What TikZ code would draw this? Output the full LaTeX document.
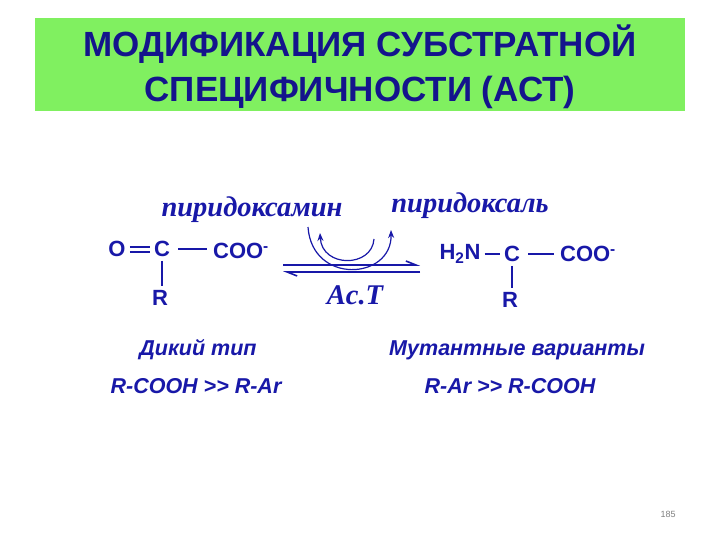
\documentclass[tikz,border=0pt]{standalone}
\usepackage{fontspec}
\setmainfont{Liberation Serif}
\setsansfont{Liberation Sans}
\usetikzlibrary{arrows.meta}
\definecolor{tb}{HTML}{14148C}
\definecolor{bl}{HTML}{1818A8}
\definecolor{gr}{HTML}{80F060}
\tikzset{
 chem/.style={font=\sffamily\bfseries\fontsize{22}{24}\selectfont, text=bl, inner sep=4pt},
 lab/.style={font=\rmfamily\bfseries\itshape\fontsize{28.5}{30}\selectfont, text=bl, inner sep=1pt},
 captxt/.style={font=\sffamily\bfseries\itshape\fontsize{21.5}{23}\selectfont, text=bl, inner sep=1pt},
 bond/.style={draw=bl, line width=2pt},
}
\begin{document}
\begin{tikzpicture}[x=1pt,y=-1pt]
\useasboundingbox (0,0) rectangle (720,540);
\fill[white] (0,0) rectangle (720,540);
\fill[gr] (35,18) rectangle (685,111);
\node[font=\sffamily\bfseries\fontsize{35}{45}\selectfont, text=tb, align=center] (title) at (360,67) {МОДИФИКАЦИЯ СУБСТРАТНОЙ\\СПЕЦИФИЧНОСТИ (АСТ)};
% left molecule
\node[chem] (o1) at (117,249) {O};
\node[chem] (c1) at (162,249) {C};
\node[chem] (coo1) at (241,251) {COO\textsuperscript{-}};
\node[chem] (r1) at (160,298) {R};
\draw[bond] ([yshift=-2.5pt]o1.east) -- ([yshift=-2.5pt]c1.west);
\draw[bond] ([yshift=2.5pt]o1.east) -- ([yshift=2.5pt]c1.west);
\draw[bond] ([xshift=4pt]c1.east) -- ([xshift=-2pt]coo1.west |- c1.east);
\draw[bond] (c1.south) -- (c1.south |- r1.north);
% right molecule
\node[chem] (n2) at (460,254) {H\textsubscript{2}N};
\node[chem] (c2) at (512,254) {C};
\node[chem] (coo2) at (588,254) {COO\textsuperscript{-}};
\node[chem] (r2) at (510,300) {R};
\draw[bond] (n2.east) -- (c2.west);
\draw[bond] ([xshift=4pt]c2.east) -- ([xshift=-2pt]coo2.west);
\draw[bond] (c2.south) -- (c2.south |- r2.north);
% labels
\node[lab] (pm) at (252,210) {пиридоксамин};
\node[lab] (pl) at (470,206) {пиридоксаль};
\node[lab] (act) at (355,295) {Ac.T};
% equilibrium arrows
\coordinate (a1) at (283,265); \coordinate (a2) at (420,265);
\coordinate (b1) at (283,272); \coordinate (b2) at (420,272);
\draw[draw=bl, line width=1.6pt, -{Straight Barb[left,length=10pt,width=8pt]}] (a1) -- (a2);
\draw[draw=bl, line width=1.6pt, -{Straight Barb[left,length=10pt,width=8pt]}] (b2) -- (b1);
% curved arrows
\coordinate (p1) at (308,227); \coordinate (p2) at (391,230);
\coordinate (q1) at (374,239); \coordinate (q2) at (320,233);
\draw[draw=bl, line width=1.2pt, -{Stealth[length=8pt,width=6pt]}] (p1) .. controls (312,285) and (392,280) .. (p2);
\draw[draw=bl, line width=1.2pt, -{Stealth[length=8pt,width=6pt]}] (q1) .. controls (372,268) and (322,268) .. (q2);
% captions
\node[captxt] (wt) at (198,350) {Дикий тип};
\node[captxt] (wtr) at (196,386) {R-COOH {>}{>} R-Ar};
\node[captxt] (mt) at (517,350) {Мутантные варианты};
\node[captxt] (mtr) at (510,386) {R-Ar {>}{>} R-COOH};
\node[font=\sffamily\fontsize{9}{10}\selectfont, text=gray] (pg) at (668,514) {185};
\end{tikzpicture}
\end{document}
